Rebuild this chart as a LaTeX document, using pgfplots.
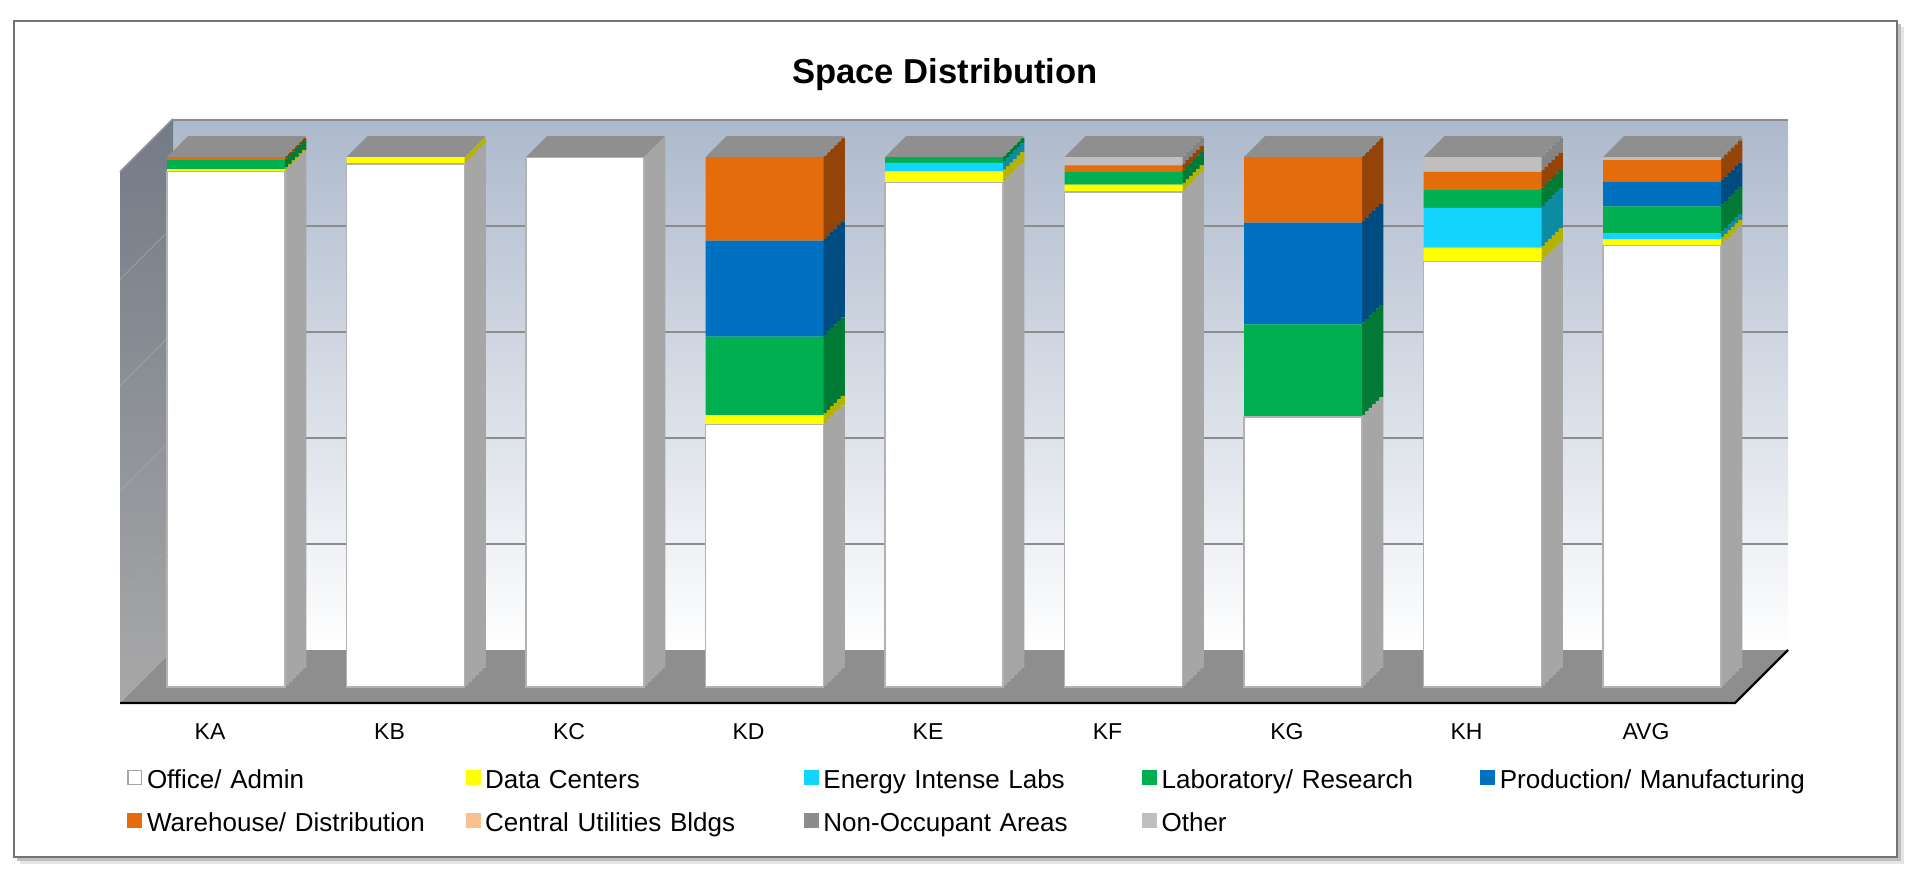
\documentclass[border=0pt]{standalone}
\usepackage{fontspec}
\setmainfont{Liberation Sans}
\usepackage{pgfplots}
\usepackage{pgfplotstable}
\pgfplotsset{compat=1.18}

\definecolor{cOffice}{HTML}{FFFFFF}
\definecolor{cData}{HTML}{FFFF00}
\definecolor{cEnergy}{HTML}{12D4FC}
\definecolor{cLab}{HTML}{00B050}
\definecolor{cProd}{HTML}{0070C0}
\definecolor{cWare}{HTML}{E46C0A}
\definecolor{cCentral}{HTML}{FAC090}
\definecolor{cNonOcc}{HTML}{8C8C8C}
\definecolor{cOther}{HTML}{BFBFBF}
\definecolor{sOffice}{HTML}{A6A6A6}
\definecolor{sData}{HTML}{B3B300}
\definecolor{sEnergy}{HTML}{0D8BA5}
\definecolor{sLab}{HTML}{007A35}
\definecolor{sProd}{HTML}{004B80}
\definecolor{sWare}{HTML}{934406}
\definecolor{sCentral}{HTML}{B08060}
\definecolor{sNonOcc}{HTML}{5E5E5E}
\definecolor{sOther}{HTML}{848484}
\definecolor{capgray}{HTML}{8F8F8F}
\definecolor{wallTop}{HTML}{ADB9CC}
\definecolor{wallMid}{HTML}{D3D9E2}
\definecolor{sideTop}{HTML}{737B87}
\definecolor{sideBot}{HTML}{A8A8A8}
\definecolor{floorgray}{HTML}{8E8E8E}

\pgfplotstableread{
x office data energy lab prod ware central nonocc other
0 97.3 0.4 0   1.7  0    0.6  0 0 0
1 98.7 1.3 0   0    0    0    0 0 0
2 100  0   0   0    0    0    0 0 0
3 49.5 1.8 0   14.8 18.1 15.8 0 0 0
4 95.2 2.1 1.6 1.1  0    0    0 0 0
5 93.4 1.4 0   2.5  0    1.1  0 0 1.6
6 51.0 0   0   17.4 19.2 12.4 0 0 0
7 80.3 2.6 7.5 3.5  0    3.3  0 0 2.8
8 83.3 1.2 1.1 5.1  4.6  4.1  0 0 0.6
}\spacedata

\pgfplotsset{
  /pgfplots/ybar legend/.style={},
  sqlegend/.style={legend image code/.code={\fill[##1, draw=none] (0pt,0.4pt) rectangle (7.5pt,7.9pt);}},
  sqlegendframe/.style={legend image code/.code={\filldraw[fill=white, draw=black!35, line width=0.6pt] (0.3pt,0.7pt) rectangle (7.2pt,7.6pt);}},
  barbase/.style={
    scale only axis, width=807.75pt, height=265pt,
    xmin=-0.5, xmax=8.5, ymin=0, ymax=100, enlargelimits=false,
    ybar stacked, bar width=59pt,
    axis line style={draw=none}, major tick length=0pt,
    ytick=\empty,
  },
}

\begin{document}
\begin{tikzpicture}
% ---------- frame and 3D walls (pixel coordinates, y downward) ----------
\begin{scope}[x=0.5pt,y=-0.5pt]
  \fill[black!10] (20,27) rectangle (1904,864);
  \fill[black!25] (17,24) rectangle (1901,861);
  \filldraw[fill=white, draw=black!55, line width=0.6pt] (14,21) rectangle (1897,857);
\end{scope}

% back wall with gridlines
\begin{axis}[at={(86.5pt,-325pt)}, anchor=south west,
  scale only axis, width=807.5pt, height=265pt,
  xmin=0, xmax=1, ymin=0, ymax=100, enlargelimits=false,
  axis line style={draw=none}, xtick=\empty,
  ytick={20,40,60,80}, yticklabel={}, major tick length=0pt,
  ymajorgrids, grid style={color=black!45, line width=1pt},
  axis background/.style={shade, top color=wallTop, middle color=wallMid, bottom color=white}]
\end{axis}

\begin{scope}[x=0.5pt,y=-0.5pt]
  % top edge of back wall
  \draw[black!45, line width=1.2pt] (173,120) -- (1788,120);
  % left side wall
  \shade[top color=sideTop, bottom color=sideBot] (120,172) -- (173,119) -- (173,650) -- (120,703) -- cycle;
  \foreach \yy in {226.5,332.5,438.5,544.5}{
    \draw[black!35, line width=0.6pt, opacity=0.6] (120,\yy+53) -- (173,\yy);
  }
  \draw[black!45, line width=0.8pt] (120,172) -- (173,119);
  % floor
  \fill[floorgray] (120,703) -- (173,650) -- (1788,650) -- (1735,703) -- cycle;
  \draw[black, line width=1.1pt] (120,703) -- (1735,703) -- (1788,650);
\end{scope}

% side faces of the bars: the same data drawn in thin slices, each one
% a little further back, so that the faces slant in depth
\foreach \k in {0,...,5}{
  \pgfmathsetmacro\ys{-343.5+0.5*3.5*(\k+0.5)}
  \pgfmathsetmacro\bs{0.5*(59+3.5*(\k+0.5))}
  \begin{axis}[barbase, at={(68.125pt,\ys pt)}, anchor=south west, xtick=\empty,
    bar width=2.1pt, bar shift=\bs pt]
  \addplot[fill=sOffice, draw=none, forget plot] table[x=x,y=office]{\spacedata};
  \addplot[fill=sData, draw=none, forget plot] table[x=x,y=data]{\spacedata};
  \addplot[fill=sEnergy, draw=none, forget plot] table[x=x,y=energy]{\spacedata};
  \addplot[fill=sLab, draw=none, forget plot] table[x=x,y=lab]{\spacedata};
  \addplot[fill=sProd, draw=none, forget plot] table[x=x,y=prod]{\spacedata};
  \addplot[fill=sWare, draw=none, forget plot] table[x=x,y=ware]{\spacedata};
  \addplot[fill=sCentral, draw=none, forget plot] table[x=x,y=central]{\spacedata};
  \addplot[fill=sNonOcc, draw=none, forget plot] table[x=x,y=nonocc]{\spacedata};
  \addplot[fill=sOther, draw=none, forget plot] table[x=x,y=other]{\spacedata};
  \end{axis}
}

% bar tops and bottom corners of side faces
\begin{scope}[x=0.5pt,y=-0.5pt]
  \foreach \i in {0,...,8}{
    \pgfmathsetmacro\xc{226+179.5*\i}
    \fill[capgray] (\xc-59,157) -- (\xc+59,157) -- (\xc+80,136) -- (\xc-38,136) -- cycle;
    \fill[sOffice] (\xc+59,687) -- (\xc+80,666) -- (\xc+59,666) -- cycle;
  }
\end{scope}

% front faces of the bars
\begin{axis}[barbase, at={(68.125pt,-343.5pt)}, anchor=south west,
  xtick={0,...,8}, xticklabels={KA,KB,KC,KD,KE,KF,KG,KH,AVG},
  xticklabel style={font=\fontsize{11.5}{14}\selectfont, anchor=base, xshift=-8pt, yshift=-26pt},
  sqlegend,
  legend columns=5,
  legend cell align=left,
  legend style={draw=none, fill=none, inner sep=0pt, at={(-0.005726,-0.14528)}, anchor=north west,
    column sep=0pt, row sep=0pt,
    nodes={inner sep=0pt, inner xsep=2.3pt, text height=12pt, text depth=9.5pt,
      text width=157pt, align=left, font=\fontsize{13}{15}\selectfont}},
]
\addplot[fill=cOffice, draw=black!30, line width=0.8pt, sqlegendframe] table[x=x,y=office]{\spacedata};
\addplot[fill=cData, draw=none, sqlegend] table[x=x,y=data]{\spacedata};
\addplot[fill=cEnergy, draw=none, sqlegend] table[x=x,y=energy]{\spacedata};
\addplot[fill=cLab, draw=none, sqlegend] table[x=x,y=lab]{\spacedata};
\addplot[fill=cProd, draw=none, sqlegend] table[x=x,y=prod]{\spacedata};
\addplot[fill=cWare, draw=none, sqlegend] table[x=x,y=ware]{\spacedata};
\addplot[fill=cCentral, draw=none, sqlegend] table[x=x,y=central]{\spacedata};
\addplot[fill=cNonOcc, draw=none, sqlegend] table[x=x,y=nonocc]{\spacedata};
\addplot[fill=cOther, draw=none, sqlegend] table[x=x,y=other]{\spacedata};
\legend{Office/ Admin, Data Centers, Energy Intense Labs, Laboratory/ Research, Production/ Manufacturing,
  Warehouse/ Distribution, Central Utilities Bldgs, Non-Occupant Areas, Other}
\end{axis}

\begin{scope}[x=0.5pt,y=-0.5pt]
  \node[anchor=base, inner sep=0pt, font=\bfseries\fontsize{17.3}{20}\selectfont] at (945,83) {Space Distribution};
\end{scope}

\pgfresetboundingbox
\useasboundingbox (0pt,0pt) rectangle (960pt,-439pt);
\end{tikzpicture}
\end{document}
